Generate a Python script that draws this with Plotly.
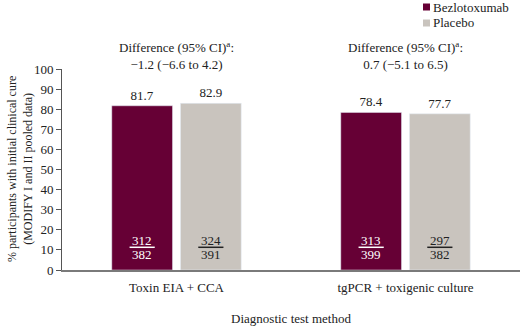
import plotly.graph_objects as go

categories = ["Toxin EIA + CCA", "tgPCR + toxigenic culture"]
series_names = ["Bezlotoxumab", "Placebo"]
bezlo_values = [81.7, 78.4]
placebo_values = [82.9, 77.7]
bezlo_num = [312, 313]
bezlo_den = [382, 399]
placebo_num = [324, 297]
placebo_den = [391, 382]
diff_labels = ["\u22121.2 (\u22126.6 to 4.2)", "0.7 (\u22125.1 to 6.5)"]
y_title = "% participants with initial clinical cure<br>(MODIFY I and II pooled data)"

MAROON = "#660035"
GRAY = "#C9C4BE"
FONT = "Liberation Serif, Times New Roman, serif"
TXT = "#222222"

BARGAP = 0.4
GROUPGAP = 0.116

fig = go.Figure()
fig.add_trace(go.Bar(
    name=series_names[0], x=categories, y=bezlo_values, marker_color=MAROON,
    text=[f"{v:.1f}" for v in bezlo_values], textposition="outside",
    textfont=dict(family=FONT, size=13, color=TXT), cliponaxis=False, showlegend=False,
))
fig.add_trace(go.Bar(
    name=series_names[1], x=categories, y=placebo_values, marker_color=GRAY,
    text=[f"{v:.1f}" for v in placebo_values], textposition="outside",
    textfont=dict(family=FONT, size=13, color=TXT), cliponaxis=False, showlegend=False,
))

slot = (1 - BARGAP) / 2
offsets = [-slot / 2, slot / 2]
halfline = 0.055
annotations = []
shapes = []
for i, cat in enumerate(categories):
    for j, (nums, dens, col) in enumerate([(bezlo_num, bezlo_den, "white"),
                                           (placebo_num, placebo_den, TXT)]):
        xc = i + offsets[j]
        annotations.append(dict(x=xc, y=14.7, xref="x", yref="y", text=str(nums[i]),
                                showarrow=False, font=dict(family=FONT, size=13, color=col)))
        annotations.append(dict(x=xc, y=7.6, xref="x", yref="y", text=str(dens[i]),
                                showarrow=False, font=dict(family=FONT, size=13, color=col)))
        shapes.append(dict(type="line", xref="x", yref="y", x0=xc - halfline, x1=xc + halfline,
                           y0=11.3, y1=11.3, line=dict(color=col, width=1.5)))
    annotations.append(dict(x=i, y=1.065, xref="x", yref="paper", yanchor="middle",
                            text=f"Difference (95% CI)<sup>a</sup>:<br>{diff_labels[i]}",
                            showarrow=False, font=dict(family=FONT, size=13, color=TXT)))

# y-axis title (rotated)
annotations.append(dict(x=(19.5 - 62) / 458, y=0.5, xref="paper", yref="paper",
                        xanchor="center", yanchor="middle", textangle=-90,
                        text=y_title, showarrow=False,
                        font=dict(family=FONT, size=12, color=TXT)))

# key drawn next to the plot (paper coords)
legend_colors = [MAROON, GRAY]
for k, (nm, col) in enumerate(zip(series_names, legend_colors)):
    ypix = 7 + 16 * k
    shapes.append(dict(type="rect", xref="paper", yref="paper",
                       x0=(423 - 62) / 458, x1=(430 - 62) / 458,
                       y0=(270 - ypix - 3.5) / 201, y1=(270 - ypix + 3.5) / 201,
                       fillcolor=col, line=dict(width=0)))
    annotations.append(dict(x=(431 - 62) / 458, y=(270 - ypix) / 201, xref="paper", yref="paper",
                            xanchor="left", yanchor="middle", text=nm, showarrow=False,
                            font=dict(family=FONT, size=13, color=TXT)))

fig.update_layout(
    width=520, height=326,
    margin=dict(l=62, r=0, t=69, b=56, autoexpand=False),
    paper_bgcolor="white", plot_bgcolor="white",
    barmode="group", bargap=BARGAP, bargroupgap=GROUPGAP,
    font=dict(family=FONT, size=13, color=TXT),
    showlegend=False,
    annotations=annotations, shapes=shapes,
    xaxis=dict(showline=True, linecolor="#7a7a7a", linewidth=2, ticks="",
               showgrid=False, tickfont=dict(family=FONT, size=13, color=TXT),
               ticklabelstandoff=4,
               title=dict(text="Diagnostic test method", font=dict(family=FONT, size=13, color=TXT),
                          standoff=20)),
    yaxis=dict(range=[0, 100], dtick=10, showline=True, linecolor="#555555", linewidth=1,
               ticks="outside", ticklen=5, tickcolor="#555555", showgrid=False, zeroline=False,
               tickfont=dict(family=FONT, size=13, color=TXT)),
)

fig.write_html("out.html", config={"displayModeBar": False},
               post_script="document.body.style.margin='0';document.body.style.padding='0';")
